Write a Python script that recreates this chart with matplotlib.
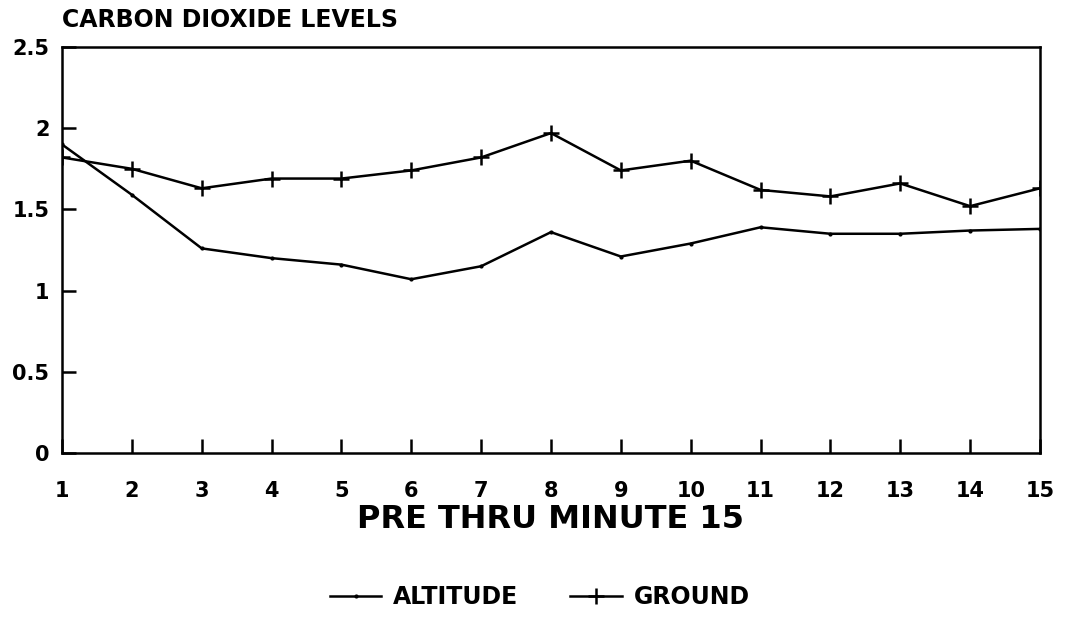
import matplotlib.pyplot as plt

minutes = list(range(1, 16))
altitude = [1.90, 1.59, 1.26, 1.20, 1.16, 1.07, 1.15, 1.36, 1.21, 1.29,
            1.39, 1.35, 1.35, 1.37, 1.38]
ground = [1.82, 1.75, 1.63, 1.69, 1.69, 1.74, 1.82, 1.97, 1.74, 1.80,
          1.62, 1.58, 1.66, 1.52, 1.63]
y_ticks = [0, 0.5, 1, 1.5, 2, 2.5]
y_labels = ['0', '0.5', '1', '1.5', '2', '2.5']

plt.rcParams['font.family'] = ['DejaVu Sans']
plt.rcParams['font.weight'] = 'bold'

fig = plt.figure(figsize=(10.65, 6.17), dpi=100)
ax = fig.add_axes([0.0582, 0.2658, 0.9183, 0.658])

ax.plot(minutes, altitude, color='black', linewidth=1.8, marker='.',
        markersize=4, label='ALTITUDE')
ax.plot(minutes, ground, color='black', linewidth=1.8, marker='+',
        markersize=12, markeredgewidth=1.8, label='GROUND')

ax.set_xlim(1, 15)
ax.set_ylim(0, 2.5)
ax.set_xticks(minutes)
ax.set_xticklabels([str(m) for m in minutes], fontsize=15, fontweight='bold')
ax.set_yticks(y_ticks)
ax.set_yticklabels(y_labels, fontsize=15, fontweight='bold')
ax.tick_params(axis='both', direction='in', length=10, width=1.8)
ax.tick_params(axis='x', pad=20)
ax.tick_params(axis='y', pad=9)
for spine in ax.spines.values():
    spine.set_linewidth(1.8)

ax.set_xlabel('PRE THRU MINUTE 15', fontsize=23, fontweight='bold', labelpad=2)

fig.text(0.0582, 0.967, 'CARBON DIOXIDE LEVELS', fontsize=17,
         fontweight='bold', ha='left', va='center')

fig.legend(loc='center', bbox_to_anchor=(0.507, 0.032), ncol=2,
           frameon=False, handlelength=2.2, handletextpad=0.5,
           columnspacing=2.2, prop={'weight': 'bold', 'size': 17})

fig.savefig('out.png', dpi=100)
plt.close(fig)
